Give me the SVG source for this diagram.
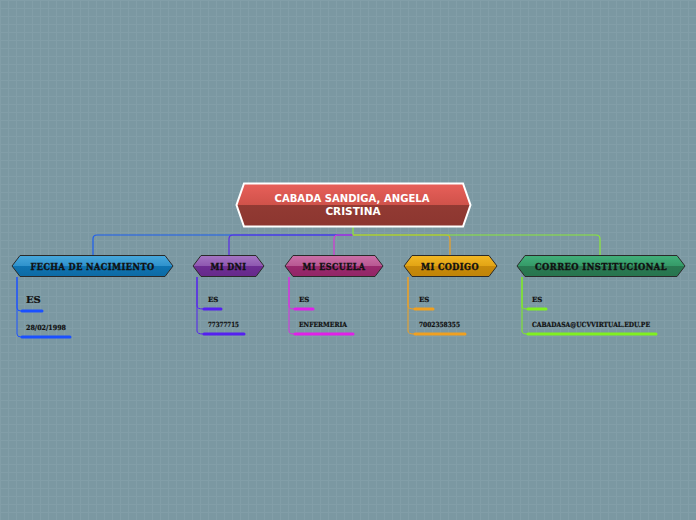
<svg xmlns="http://www.w3.org/2000/svg" width="696" height="520" viewBox="0 0 696 520">
<defs>
<pattern id="grid" width="8" height="8" patternUnits="userSpaceOnUse">
<rect width="8" height="8" fill="#7b98a2"/>
<path d="M0 0.5H8M0.5 0V8" stroke="#86a2ac" stroke-width="1" opacity="0.6"/>
</pattern>
<linearGradient id="gRoot" x1="0" y1="0" x2="0" y2="1">
<stop offset="0" stop-color="#e8605a"/><stop offset="0.5" stop-color="#d0524a"/><stop offset="0.5" stop-color="#923a33"/><stop offset="1" stop-color="#8c3630"/>
</linearGradient>
<linearGradient id="gBlue" x1="0" y1="0" x2="0" y2="1">
<stop offset="0" stop-color="#48a8dc"/><stop offset="0.5" stop-color="#2f92cc"/><stop offset="0.5" stop-color="#0f74b2"/><stop offset="1" stop-color="#0c6aa4"/>
</linearGradient>
<linearGradient id="gPurple" x1="0" y1="0" x2="0" y2="1">
<stop offset="0" stop-color="#a676c4"/><stop offset="0.5" stop-color="#8e58b0"/><stop offset="0.5" stop-color="#6e2e94"/><stop offset="1" stop-color="#66298a"/>
</linearGradient>
<linearGradient id="gMag" x1="0" y1="0" x2="0" y2="1">
<stop offset="0" stop-color="#cc70a8"/><stop offset="0.5" stop-color="#b85892"/><stop offset="0.5" stop-color="#9a2a6e"/><stop offset="1" stop-color="#922566"/>
</linearGradient>
<linearGradient id="gGold" x1="0" y1="0" x2="0" y2="1">
<stop offset="0" stop-color="#f2b824"/><stop offset="0.5" stop-color="#e2a414"/><stop offset="0.5" stop-color="#c88a0a"/><stop offset="1" stop-color="#c08408"/>
</linearGradient>
<linearGradient id="gGreen" x1="0" y1="0" x2="0" y2="1">
<stop offset="0" stop-color="#42b07a"/><stop offset="0.5" stop-color="#359a68"/><stop offset="0.5" stop-color="#2a7a52"/><stop offset="1" stop-color="#27744e"/>
</linearGradient>
</defs>
<style>
.conn{fill:none;stroke-width:1.2}
.sub{fill:none;stroke-width:1}
.ul{stroke-width:3;stroke-linecap:round}
.child{stroke:#2a2a2a;stroke-width:1}
.ct{font-family:"DejaVu Serif",serif;font-weight:bold;font-size:9px;fill:#111;stroke:#111;stroke-width:0.35;text-anchor:middle;letter-spacing:0.5px}
.st{font-family:"DejaVu Serif",serif;font-weight:bold;font-size:7px;fill:#111;stroke:#111;stroke-width:0.2}
.rt{font-family:"DejaVu Sans","Liberation Sans",sans-serif;font-weight:bold;font-size:10.5px;fill:#fff;text-anchor:middle}
</style>
<rect width="696" height="520" fill="url(#grid)"/>

<g id="connectors">
<path class="conn" stroke="#1c5ef0" d="M353 235H97Q93 235 93 239V255"/>
<path class="conn" stroke="#5a28e8" d="M353 235H233Q229 235 229 239V255"/>
<path class="conn" stroke="#d638d6" d="M353 235H338Q334 235 334 239V255"/>
<path class="conn" stroke="#f0a020" d="M353 235H446Q450 235 450 239V255"/>
<path class="conn" stroke="#8ae838" d="M353 227V235H596Q600 235 600 239V255"/>

<path class="sub" stroke="#1a50ff" d="M17 277V308Q17 311 21 311"/>
<path class="sub" stroke="#1a50ff" d="M17 277V334Q17 337 21 337"/>
<path class="sub" stroke="#5520f0" d="M197 277V306Q197 309 203 309"/>
<path class="sub" stroke="#5520f0" d="M197 277V331Q197 334 203 334"/>
<path class="sub" stroke="#d830e0" d="M289 277V306Q289 309 294 309"/>
<path class="sub" stroke="#d830e0" d="M289 277V331Q289 334 294 334"/>
<path class="sub" stroke="#f0a020" d="M408 277V306Q408 309 414 309"/>
<path class="sub" stroke="#f0a020" d="M408 277V331Q408 334 414 334"/>
<path class="sub" stroke="#80f020" d="M522 277V306Q522 309 527 309"/>
<path class="sub" stroke="#80f020" d="M522 277V331Q522 334 527 334"/>
</g>

<g id="root">
<polygon points="244,183.5 463,183.5 470.5,205 463,226.5 244,226.5 236.5,205" fill="url(#gRoot)" stroke="#fff" stroke-width="2"/>
<text class="rt" x="352" y="202" textLength="155" lengthAdjust="spacingAndGlyphs">CABADA SANDIGA, ANGELA</text>
<text class="rt" x="353" y="215">CRISTINA</text>
</g>

<g id="n-fecha">
<polygon class="child" points="20,255.5 165,255.5 173,266 165,276.5 20,276.5 12,266" fill="url(#gBlue)"/>
<text class="ct" x="92.5" y="269.5" textLength="124" lengthAdjust="spacingAndGlyphs">FECHA DE NACIMIENTO</text>
</g>
<g id="n-fecha-es">
<text class="st" x="26" y="303" style="font-size:10px">ES</text>
<line class="ul" stroke="#1a50ff" x1="22" y1="311" x2="42" y2="311"/>
</g>
<g id="n-fecha-date">
<text class="st" x="26" y="330" textLength="40" lengthAdjust="spacingAndGlyphs">28/02/1998</text>
<line class="ul" stroke="#1a50ff" x1="22" y1="337" x2="70" y2="337"/>
</g>

<g id="n-dni">
<polygon class="child" points="201,255.5 256,255.5 264,266 256,276.5 201,276.5 193,266" fill="url(#gPurple)"/>
<text class="ct" x="228.5" y="269.5" textLength="36" lengthAdjust="spacingAndGlyphs">MI DNI</text>
</g>
<g id="n-dni-es">
<text class="st" x="208" y="302">ES</text>
<line class="ul" stroke="#5520f0" x1="204" y1="309" x2="221" y2="309"/>
</g>
<g id="n-dni-num">
<text class="st" x="208" y="327" textLength="31" lengthAdjust="spacingAndGlyphs">77377715</text>
<line class="ul" stroke="#5520f0" x1="204" y1="334" x2="244" y2="334"/>
</g>

<g id="n-escuela">
<polygon class="child" points="293,255.5 375,255.5 383,266 375,276.5 293,276.5 285,266" fill="url(#gMag)"/>
<text class="ct" x="334" y="269.5" textLength="63" lengthAdjust="spacingAndGlyphs">MI ESCUELA</text>
</g>
<g id="n-escuela-es">
<text class="st" x="299" y="302">ES</text>
<line class="ul" stroke="#e020e8" x1="295" y1="309" x2="313" y2="309"/>
</g>
<g id="n-escuela-val">
<text class="st" x="299" y="327" textLength="48" lengthAdjust="spacingAndGlyphs">ENFERMERIA</text>
<line class="ul" stroke="#e020e8" x1="295" y1="334" x2="353" y2="334"/>
</g>

<g id="n-codigo">
<polygon class="child" points="412,255.5 489,255.5 497,266 489,276.5 412,276.5 404,266" fill="url(#gGold)"/>
<text class="ct" x="450" y="269.5" textLength="58" lengthAdjust="spacingAndGlyphs">MI CODIGO</text>
</g>
<g id="n-codigo-es">
<text class="st" x="419" y="302">ES</text>
<line class="ul" stroke="#f0a020" x1="415" y1="309" x2="433" y2="309"/>
</g>
<g id="n-codigo-val">
<text class="st" x="419" y="327" textLength="41" lengthAdjust="spacingAndGlyphs">7002358355</text>
<line class="ul" stroke="#f0a020" x1="415" y1="334" x2="465" y2="334"/>
</g>

<g id="n-correo">
<polygon class="child" points="525,255.5 677,255.5 685,266 677,276.5 525,276.5 517,266" fill="url(#gGreen)"/>
<text class="ct" x="601" y="269.5" textLength="132" lengthAdjust="spacingAndGlyphs">CORREO INSTITUCIONAL</text>
</g>
<g id="n-correo-es">
<text class="st" x="532" y="302">ES</text>
<line class="ul" stroke="#80f020" x1="528" y1="309" x2="546" y2="309"/>
</g>
<g id="n-correo-val">
<text class="st" x="532" y="327" textLength="118" lengthAdjust="spacingAndGlyphs">CABADASA@UCVVIRTUAL.EDU.PE</text>
<line class="ul" stroke="#80f020" x1="528" y1="334" x2="656" y2="334"/>
</g>
</svg>
